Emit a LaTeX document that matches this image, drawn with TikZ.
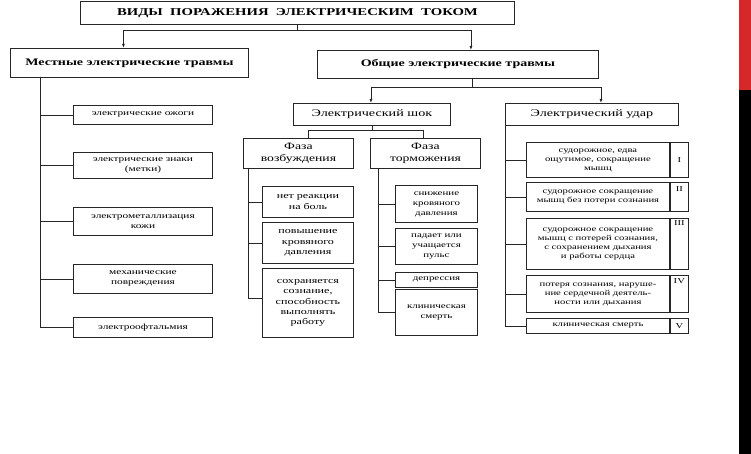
\documentclass[tikz,border=0pt]{standalone}
\usepackage{fontspec}
\setmainfont{Liberation Serif}[FakeStretch=1.4]
\usetikzlibrary{arrows.meta,positioning}
\definecolor{barred}{RGB}{214,40,40}
\tikzstyle{box}=[draw=black!85,line width=0.9pt,rectangle,anchor=north west,align=center,inner sep=1pt]
\tikzstyle{leaf}=[box,font=\fontsize{7.6}{9}\selectfont]
\tikzstyle{bigleaf}=[box,font=\fontsize{8.6}{10.3}\selectfont]
\tikzstyle{numbox}=[box,minimum width=18pt]
\tikzstyle{numtxt}=[font=\fontsize{7.6}{9}\selectfont,inner sep=0pt]
\tikzstyle{line}=[draw=black!85,line width=0.8pt]
\tikzstyle{arr}=[line,-{Latex[length=4pt,width=3pt]}]

\begin{document}
\begin{tikzpicture}[x=1pt,y=-1pt]
    \useasboundingbox (0,0) rectangle (751,454);
    % side bar
    \fill[barred] (739,0) rectangle (751,90);
    \fill[black] (739,90) rectangle (751,454);
    % top levels
    \node[box,minimum width=434,minimum height=23,font=\fontsize{10.5}{12}\selectfont\bfseries] (title) at (80,1)
        {ВИДЫ\ \ ПОРАЖЕНИЯ\ \ ЭЛЕКТРИЧЕСКИМ\ \ ТОКОМ};
    \node[box,minimum width=238,minimum height=29,font=\fontsize{10}{12}\selectfont\bfseries] (mest) at (10,48)
        {Местные электрические травмы};
    \node[box,minimum width=281,minimum height=28,font=\fontsize{10}{12}\selectfont\bfseries] (obsh) at (317,50)
        {Общие электрические травмы};
    \node[box,minimum width=157,minimum height=22,font=\fontsize{10.1}{12}\selectfont] (shok) at (293,103)
        {Электрический шок};
    \node[box,minimum width=173,minimum height=22,font=\fontsize{10.1}{12}\selectfont] (udar) at (505,103)
        {Электрический удар};
    \node[box,minimum width=110,minimum height=30,font=\fontsize{9.8}{12}\selectfont] (vozb) at (243,138)
        {Фаза\\возбуждения};
    \node[box,minimum width=110,minimum height=30,font=\fontsize{9.8}{12}\selectfont] (torm) at (370,138)
        {Фаза\\торможения};

    % title -> first level
    \coordinate (tj) at (297,30);
    \draw[line] (title.south -| tj) -- (tj);
    \draw[arr] (tj) -| ([xshift=-6]mest.north);
    \draw[arr] (tj) -| ([xshift=13]obsh.north);
    % general -> shock, stroke
    \coordinate (oj) at (472,87);
    \draw[line] (obsh.south -| oj) -- (oj);
    \draw[arr] (oj) -| ([xshift=-1]shok.north);
    \draw[arr] (oj) -| ([xshift=9]udar.north);
    % shock -> phases
    \coordinate (sj) at (372,130);
    \draw[line] (shok.south -| sj) -- (sj);
    \draw[line] (sj) -| ([xshift=10]vozb.north);
    \draw[line] (sj) -| ([xshift=-2]torm.north);

    % local injuries
    \foreach \y/\h/\name/\txt in {105/19/m1/{электрические ожоги},
                                  152/26/m2/{электрические знаки\\(метки)},
                                  207/28/m3/{электрометаллизация\\кожи},
                                  264/29/m4/{механические\\повреждения},
                                  317/20/m5/{электроофтальмия}}
        \node[box,font=\fontsize{8.1}{10}\selectfont,minimum width=139,minimum height=\h] (\name) at (73,\y) {\txt};
    \coordinate (mt) at (40,77);
    \foreach \name in {m1,m2,m3,m4,m5}
        \draw[line] (mt) |- (\name.west);

    % excitation phase
    \foreach \y/\h/\name/\txt in {186/31/v1/{нет реакции\\на боль},
                                  222/41/v2/{повышение\\кровяного\\давления},
                                  268/69/v3/{сохраняется\\сознание,\\способность\\выполнять\\работу}}
        \node[bigleaf,minimum width=91,minimum height=\h] (\name) at (262,\y) {\txt};
    \coordinate (vt) at (248,168);
    \foreach \name in {v1,v2}
        \draw[line] (vt) |- (\name.west);
    \draw[line] (vt) |- ([yshift=5]v3.west);

    % inhibition phase
    \foreach \y/\h/\name/\txt in {185/37/t1/{снижение\\кровяного\\давления},
                                  228/36/t2/{падает или\\учащается\\пульс},
                                  272/15/t3/{депрессия},
                                  289/46/t4/{клиническая\\смерть}}
        \node[box,font=\fontsize{7.8}{10}\selectfont,minimum width=82,minimum height=\h] (\name) at (395,\y) {\txt};
    \coordinate (tt) at (378,168);
    \foreach \name in {t1,t2,t3,t4}
        \draw[line] (tt) |- (\name.west);

    % electric stroke degrees
    \foreach \y/\h/\name/\num/\txt in {142/35/u1/I/{судорожное, едва\\ощутимое, сокращение\\мышц},
                                       182/29/u2/II/{судорожное сокращение\\мышц без потери сознания},
                                       218/51/u3/III/{судорожное сокращение\\мышц с потерей сознания,\\с сохранением дыхания\\и работы сердца},
                                       275/37/u4/IV/{потеря сознания, наруше-\\ние сердечной деятель-\\ности или дыхания},
                                       318/15/u5/V/{клиническая смерть}}
    {
        \node[leaf,minimum width=143,minimum height=\h] (\name) at (526,\y) {\txt};
        \node[numbox,minimum height=\h] (n\name) at (\name.north east) {};
    }
    \node[numtxt] at (nu1.center) {I};
    \node[numtxt,below=4pt of nu2.north] {II};
    \node[numtxt,below=2pt of nu3.north] {III};
    \node[numtxt,below=3pt of nu4.north] {IV};
    \node[numtxt] at (nu5.center) {V};
    \coordinate (ut) at (505,125);
    \foreach \name in {u1,u2,u3,u4,u5}
        \draw[line] (ut) |- (\name.west);
\end{tikzpicture}
\end{document}
